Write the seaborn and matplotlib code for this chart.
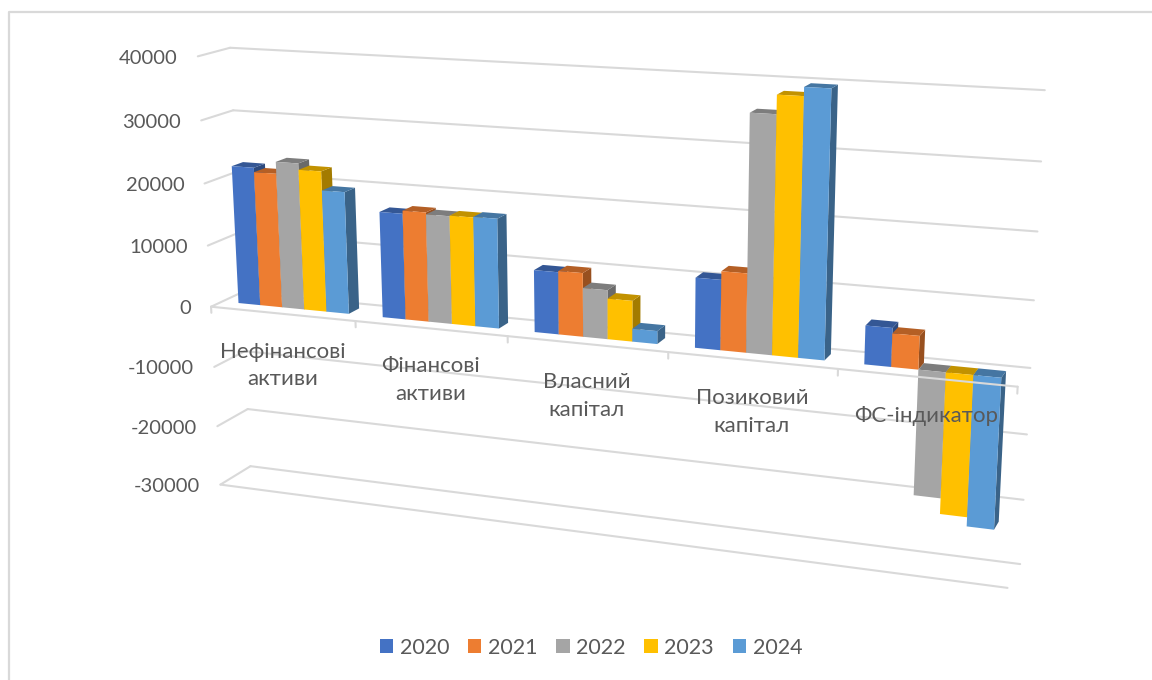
import numpy as np
import pandas as pd
import matplotlib
matplotlib.use("Agg")
import matplotlib.pyplot as plt
import matplotlib.colors as mcolors
from matplotlib.patches import Polygon
from matplotlib.lines import Line2D
from matplotlib.transforms import Transform, Affine2D
import seaborn as sns

sns.set_style("white")
plt.rcParams["font.family"] = ["Lato", "Open Sans", "DejaVu Sans"]

categories = ["Нефінансові\nактиви", "Фінансові\nактиви", "Власний\nкапітал", "Позиковий\nкапітал", "ФС-індикатор"]
years = ["2020", "2021", "2022", "2023", "2024"]
colors = ["#4472C4", "#ED7D31", "#A5A5A5", "#FFC000", "#5B9BD5"]
y_ticks = [40000, 30000, 20000, 10000, 0, -10000, -20000, -30000]

v2020 = [22300, 16800, 9700, 10700, 5800]
v2021 = [21600, 17300, 9900, 12000, 5000]
v2022 = [23500, 17000, 7600, 35600, -19000]
v2023 = [22500, 17100, 6300, 38400, -21400]
v2024 = [19500, 17200, 2000, 39700, -22800]

TEXT = "#595959"
GRID = "#D9D9D9"
W, H = 1152, 680
FRONT, BAR_FRONT, BAR_BACK, BACK = 0.0, 0.36, 0.72, 1.0

# camera calibration: (category pos, value/10000, depth) -> pixel in the image
anchors = [
    (0, 4, 0, 197.6, 56), (0, 3, 0, 201, 120.7), (0, 2, 0, 204.6, 182.7), (0, 1, 0, 207.6, 245),
    (0, 0, 0, 212.3, 306), (0, -1, 0, 214, 366.7), (0, -2, 0, 217.5, 426.7), (0, -3, 0, 220.4, 484.3),
    (1, 0, 0, 354.5, 321.7), (2, 0, 0, 509, 336.7), (3, 0, 0, 668, 352), (4, 0, 0, 837, 370),
    (5, 0, 0, 1017, 386.7), (5, -3, 0, 1008.4, 588),
    (0, 4, 1, 231.4, 47.7), (0, 3, 1, 234.4, 110), (0, 0, 1, 237, 295), (0, -2, 1, 248.7, 408.3),
    (0, -3, 1, 251.7, 465.7), (5, 4, 1, 1045, 90.3), (5, 3, 1, 1041, 161.3), (5, 2, 1, 1037.4, 231.3),
    (5, 1, 1, 1033.8, 300), (5, 0, 1, 1030.8, 367.7), (5, -1, 1, 1027, 434.3), (5, -2, 1, 1023.5, 499.7),
    (5, -3, 1, 1020, 563.7),
]


def fit_camera(points):
    rows = []
    for u, v, d, px, py in points:
        px, py = px / 1000, py / 1000
        rows.append([u, v, d, 1, 0, 0, 0, 0, -px * u, -px * v, -px * d, -px])
        rows.append([0, 0, 0, 0, u, v, d, 1, -py * u, -py * v, -py * d, -py])
    return np.linalg.svd(np.array(rows, dtype=float))[2][-1].reshape(3, 4)


CAMERA = fit_camera(anchors)


class Plane(Transform):
    """(bar x, value) at a fixed depth -> display pixels"""
    input_dims = 2
    output_dims = 2
    is_separable = False
    has_inverse = False

    def __init__(self, plane_depth):
        super().__init__()
        self.plane_depth = plane_depth

    def transform_non_affine(self, values):
        values = np.asarray(values, dtype=float)
        pts = np.column_stack([values[:, 0] + 0.5, values[:, 1] / 10000,
                               np.full(len(values), self.plane_depth), np.ones(len(values))])
        out = pts @ CAMERA.T
        px = 1000 * out[:, 0] / out[:, 2]
        py = 1000 * out[:, 1] / out[:, 2]
        return np.column_stack([px, H - py])


def shade(color, factor):
    return tuple(c * factor for c in mcolors.to_rgb(color))


df = pd.DataFrame({"cat": categories, "2020": v2020, "2021": v2021, "2022": v2022, "2023": v2023, "2024": v2024})
df = df.melt(id_vars="cat", var_name="year", value_name="value")

fig = plt.figure(figsize=(W / 100, H / 100), dpi=100)
ax = fig.add_axes([0, 0, 1, 1])
sns.barplot(data=df, x="cat", y="value", hue="year", palette=colors, saturation=1, width=0.77,
            linewidth=0, ax=ax)

front_tf, back_tf, bar_tf, bar_back_tf = Plane(FRONT), Plane(BACK), Plane(BAR_FRONT), Plane(BAR_BACK)

# walls and floor
grid_kw = dict(color=GRID, lw=1.5, zorder=1, solid_capstyle="round")
for tick in y_ticks:
    ax.add_line(Line2D([-0.5, 4.5], [tick, tick], transform=back_tf, **grid_kw))
    a = front_tf.transform([[-0.5, tick]])[0]
    b = back_tf.transform([[-0.5, tick]])[0]
    ax.add_line(Line2D([a[0], b[0]], [a[1], b[1]], transform=Affine2D(), **grid_kw))
    ax.text(a[0] - 20, a[1] - 2, str(tick), ha="right", va="center", fontsize=14.5, color=TEXT,
            transform=Affine2D())
ax.add_line(Line2D([-0.5, 4.5], [-30000, -30000], transform=front_tf, **grid_kw))

# bars: left to right so the neighbour covers the side face
for bars in ax.containers:
    for bar in bars:
        x0, x1 = bar.get_x(), bar.get_x() + bar.get_width()
        lo, hi = min(0, bar.get_y() + bar.get_height()), max(0, bar.get_y() + bar.get_height())
        col = bar.get_facecolor()
        order = 3 + x0 * 0.5
        front = bar_tf.transform([[x1, lo], [x1, hi]])
        rear = bar_back_tf.transform([[x1, hi], [x1, lo]])
        side = np.vstack([front, rear])
        top = np.vstack([bar_tf.transform([[x0, hi], [x1, hi]]), bar_back_tf.transform([[x1, hi], [x0, hi]])])
        ax.add_patch(Polygon(side, closed=True, fc=shade(col, 0.64), lw=0, transform=Affine2D(), zorder=order))
        ax.add_patch(Polygon(top, closed=True, fc=shade(col, 0.76), lw=0, transform=Affine2D(), zorder=order + 0.001))
        bar.set_transform(bar_tf)
        bar.set_zorder(order + 0.002)

# category axis in front of the bars
ax.add_line(Line2D([-0.5, 4.5], [0, 0], transform=front_tf, color=GRID, lw=1.5, zorder=8))
for i in range(6):
    ax.add_line(Line2D([i - 0.5, i - 0.5], [0, -1000], transform=front_tf, color=GRID, lw=1.5, zorder=8))

for i, label in enumerate(categories):
    p = front_tf.transform([[i, 0]])[0]
    ax.text(p[0], p[1] - 28, label, ha="center", va="top", fontsize=16, color=TEXT, linespacing=1.47,
            transform=Affine2D(), zorder=9)

sns.move_legend(ax, loc="center", bbox_to_anchor=(591 / W, 1 - 648 / H), bbox_transform=fig.transFigure,
                ncol=5, frameon=False, title=None, fontsize=15.5, handlelength=0.62, handleheight=0.62,
                handletextpad=0.3, columnspacing=0.88, labelcolor=TEXT)

ax.set_axis_off()

# screenshot frame
fig.add_artist(Line2D([9 / W, 9 / W, 1], [0, 1 - 12 / H, 1 - 12 / H], color=GRID, lw=1.6))

fig.savefig("out.png", dpi=100)
